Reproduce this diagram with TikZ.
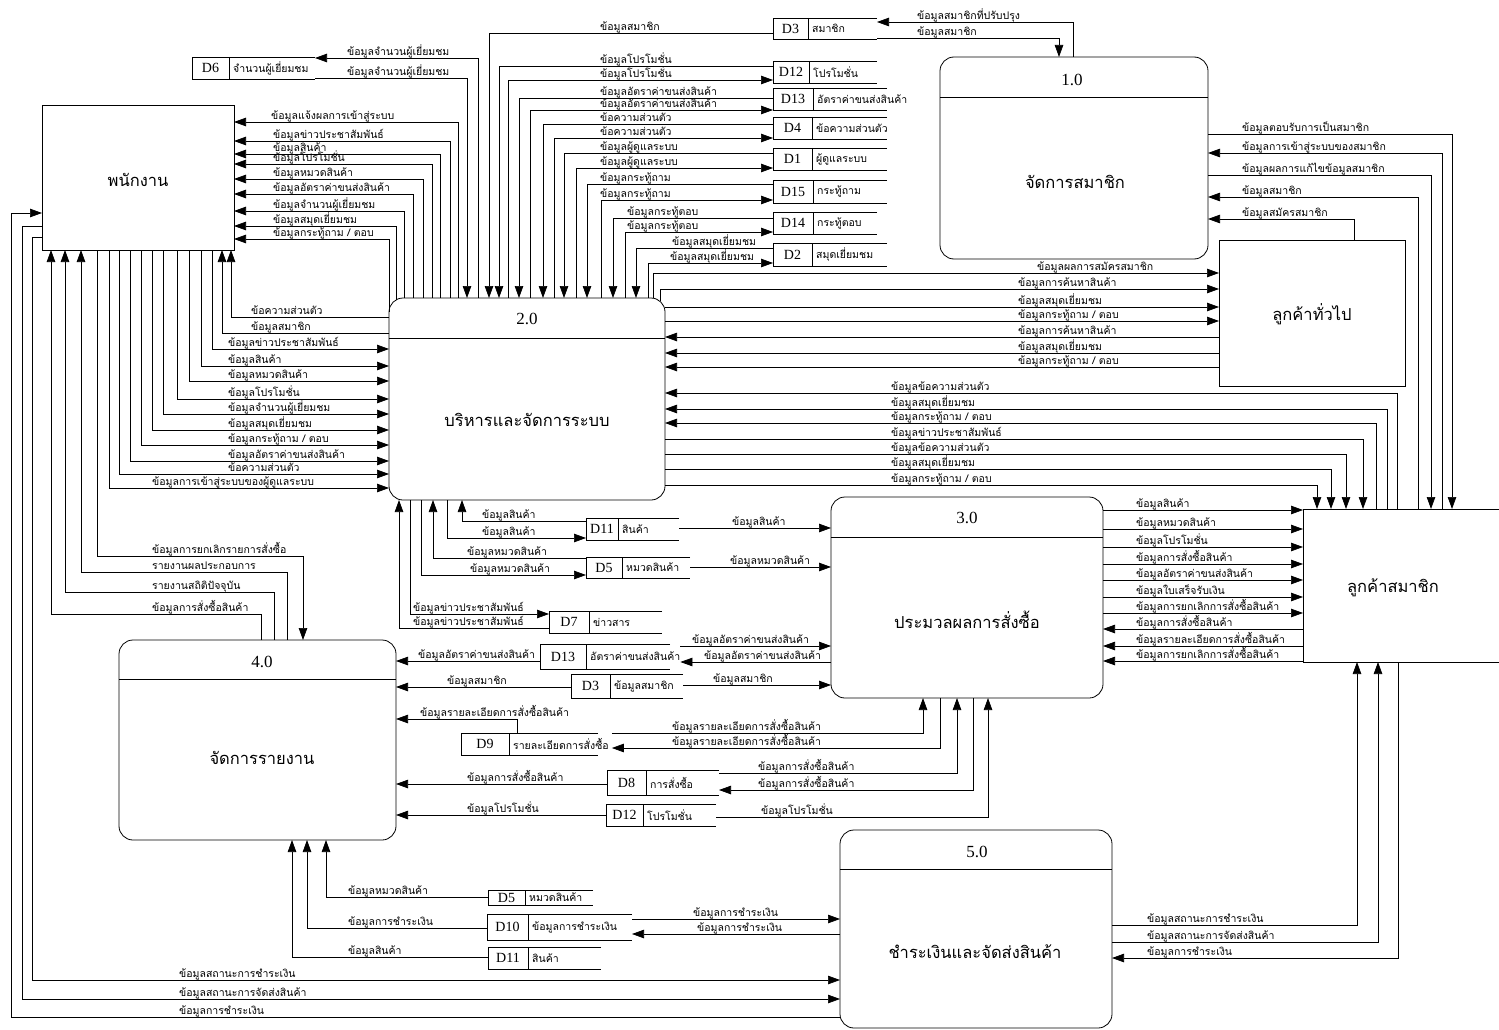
\documentclass[tikz,border=0pt]{standalone}
\usepackage{fontspec}
\setmainfont{Liberation Serif}
\newfontfamily\thaifont[Script=Thai]{Loma}
\usetikzlibrary{arrows.meta,fit}
\newcounter{lbc}
\newcommand\lb[3]{\stepcounter{lbc}\node[lbl] (lab\arabic{lbc}) at (#1,#2-2.5) {#3};}
\newcommand\dstore[8]{%
  \coordinate (#1nw) at (#2,#3);
  \coordinate (#1se) at (#6,#4);
  \node[fit=(#1nw)(#1se), inner sep=0pt, outer sep=0pt] (#1) {};
  \draw[ln] (#1.north east) -- (#1.north west) -- (#1.south west) -- (#1.south east);
  \draw[ln] (#1.north west -| #5,0) -- (#1.south west -| #5,0);
  \node[idf] (#1i) at ({(#2+#5)/2},{(#3+#4)/2}) {#7};
  \node[stf] (#1n) at (#5+4,{(#3+#4)/2}) {#8};
}
\tikzset{
  ln/.style={line width=0.7pt},
  flow/.style={line width=0.7pt,-{Triangle[length=12pt,width=8.5pt]}},
  lbl/.style={anchor=base west, inner sep=0pt, font=\thaifont\fontsize{10.5}{11}\selectfont},
  stf/.style={anchor=west, inner sep=0pt, font=\thaifont\fontsize{10.5}{11}\selectfont},
  idf/.style={inner sep=0pt, font=\fontsize{14}{14}\selectfont},
  ent/.style={draw, line width=0.8pt, inner sep=0pt, outer sep=0pt},
  proc/.style={ent, rounded corners=14pt},
  big/.style={inner sep=0pt, font=\thaifont\fontsize{16.5}{18}\selectfont},
  num/.style={inner sep=0pt, font=\fontsize{17}{18}\selectfont},
}
\begin{document}
\begin{tikzpicture}[x=1pt,y=-1pt]
\useasboundingbox (0,0) rectangle (1499,1030);
% ---------------- external entities
\node[ent, minimum width=192pt, minimum height=145pt] (e1) at (138,177.5) {};
\node[big] (e1t) at (138,180) {พนักงาน};
\node[ent, minimum width=186pt, minimum height=146pt] (e2) at (1312,313) {};
\node[big] (e2t) at (1312,314) {ลูกค้าทั่วไป};
\node[ent, minimum width=207pt, minimum height=153pt] (e3) at (1406.5,585.5) {};
\node[big] (e3t) at (1393,588) {ลูกค้าสมาชิก};
% ---------------- processes
\node[proc, minimum width=268pt, minimum height=202pt] (p1) at (1074,158) {};
\draw[ln] (p1.west |- 0,97) -- (p1.east |- 0,97);
\node[num] (p1n) at (1072,80) {1.0};
\node[big] (p1t) at (1075,182) {จัดการสมาชิก};
\node[proc, minimum width=276pt, minimum height=202pt] (p2) at (527,399) {};
\draw[ln] (p2.west |- 0,338) -- (p2.east |- 0,338);
\node[num] (p2n) at (527,319) {2.0};
\node[big] (p2t) at (527,420) {บริหารและจัดการระบบ};
\node[proc, minimum width=272pt, minimum height=201pt] (p3) at (967,597.5) {};
\draw[ln] (p3.west |- 0,537) -- (p3.east |- 0,537);
\node[num] (p3n) at (967,518) {3.0};
\node[big] (p3t) at (967,620) {ประมวลผลการสั่งซื้อ};
\node[proc, minimum width=277pt, minimum height=200pt] (p4) at (257.5,740) {};
\draw[ln] (p4.west |- 0,679) -- (p4.east |- 0,679);
\node[num] (p4n) at (262,662) {4.0};
\node[big] (p4t) at (262,758) {จัดการรายงาน};
\node[proc, minimum width=272pt, minimum height=198pt] (p5) at (976,929) {};
\draw[ln] (p5.west |- 0,869) -- (p5.east |- 0,869);
\node[num] (p5n) at (977,852) {5.0};
\node[big] (p5t) at (975,952) {ชำระเงินและจัดส่งสินค้า};
% ---------------- data stores
\dstore{d3a}{773}{18}{39}{808}{877}{D3}{สมาชิก}
\dstore{d12a}{773}{61}{83}{809}{877}{D12}{โปรโมชั่น}
\dstore{d13a}{773}{88}{110}{813}{887}{D13}{อัตราค่าขนส่งสินค้า}
\dstore{d4}{773}{117}{139}{812}{887}{D4}{ข้อความส่วนตัว}
\dstore{d1}{773}{148}{170}{812}{887}{D1}{ผู้ดูแลระบบ}
\dstore{d15}{773}{180}{203}{813}{887}{D15}{กระทู้ถาม}
\dstore{d14}{773}{212}{234}{813}{877}{D14}{กระทู้ตอบ}
\dstore{d2}{773}{243}{266}{812}{887}{D2}{สมุดเยี่ยมชม}
\dstore{d6}{192}{57}{79}{229}{315}{D6}{จำนวนผู้เยี่ยมชม}
\dstore{d11a}{586}{518}{540}{618}{679}{D11}{สินค้า}
\dstore{d5a}{586}{557}{578}{622}{690}{D5}{หมวดสินค้า}
\dstore{d7}{549}{611}{633}{589}{662}{D7}{ข่าวสาร}
\dstore{d13b}{540}{644}{669}{586}{670}{D13}{อัตราค่าขนส่งสินค้า}
\dstore{d3b}{571}{674}{698}{610}{683}{D3}{ข้อมูลสมาชิก}
\dstore{d9}{461}{733}{755}{509}{598}{D9}{รายละเอียดการสั่งซื้อ}
\dstore{d8}{607}{770}{795}{646}{719}{D8}{การสั่งซื้อ}
\dstore{d12b}{606}{804}{826}{643}{716}{D12}{โปรโมชั่น}
\dstore{d5b}{488}{890}{905}{525}{593}{D5}{หมวดสินค้า}
\dstore{d10}{487}{914}{940}{528}{632}{D10}{ข้อมูลการชำระเงิน}
\dstore{d11b}{488}{947}{969}{528}{601}{D11}{สินค้า}
% ---------------- 2.0 <-> D6
\draw[flow] (p2.north -| 478,0) -- (478,58) -- (d6.east |- 0,58);
\lb{347}{58}{ข้อมูลจำนวนผู้เยี่ยมชม}
\draw[flow] (d6.east |- 0,78) -- (467,78) -- (p2.north -| 467,0);
\lb{347}{78}{ข้อมูลจำนวนผู้เยี่ยมชม}
% ---------------- 2.0 <-> top stores
\draw[flow] (d3a.west |- 0,33) -- (489,33) -- (p2.north -| 489,0);
\lb{600}{33}{ข้อมูลสมาชิก}
\draw[flow] (d12a.west |- 0,66) -- (499,66) -- (p2.north -| 499,0);
\lb{600}{66}{ข้อมูลโปรโมชั่น}
\draw[flow] (p2.north -| 508,0) -- (508,80) -- (d12a.west |- 0,80);
\lb{600}{80}{ข้อมูลโปรโมชั่น}
\draw[flow] (d13a.west |- 0,98) -- (519,98) -- (p2.north -| 519,0);
\lb{600}{98}{ข้อมูลอัตราค่าขนส่งสินค้า}
\draw[flow] (p2.north -| 530,0) -- (530,110) -- (d13a.west |- 0,110);
\lb{600}{110}{ข้อมูลอัตราค่าขนส่งสินค้า}
\draw[flow] (d4.west |- 0,124) -- (543,124) -- (p2.north -| 543,0);
\lb{600}{124}{ข้อความส่วนตัว}
\draw[flow] (p2.north -| 554,0) -- (554,138) -- (d4.west |- 0,138);
\lb{600}{138}{ข้อความส่วนตัว}
\draw[flow] (d1.west |- 0,153) -- (564,153) -- (p2.north -| 564,0);
\lb{600}{153}{ข้อมูลผู้ดูแลระบบ}
\draw[flow] (p2.north -| 576,0) -- (576,168) -- (d1.west |- 0,168);
\lb{600}{168}{ข้อมูลผู้ดูแลระบบ}
\draw[flow] (d15.west |- 0,184) -- (587,184) -- (p2.north -| 587,0);
\lb{600}{184}{ข้อมูลกระทู้ถาม}
\draw[flow] (p2.north -| 601,0) -- (601,200) -- (d15.west |- 0,200);
\lb{600}{200}{ข้อมูลกระทู้ถาม}
\draw[flow] (d14.west |- 0,218) -- (613,218) -- (p2.north -| 613,0);
\lb{627}{218}{ข้อมูลกระทู้ตอบ}
\draw[flow] (p2.north -| 625,0) -- (625,232) -- (d14.west |- 0,232);
\lb{627}{232}{ข้อมูลกระทู้ตอบ}
\draw[flow] (d2.west |- 0,248) -- (636,248) -- (p2.north -| 636,0);
\lb{672}{248}{ข้อมูลสมุดเยี่ยมชม}
\draw[flow] (p2.north -| 648,0) -- (648,263) -- (d2.west |- 0,263);
\lb{670}{263}{ข้อมูลสมุดเยี่ยมชม}
% ---------------- 2.0 -> พนักงาน (right side)
\draw[flow] (p2.north -| 458,0) -- (458,122) -- (e1.east |- 0,122);
\lb{271}{122}{ข้อมูลแจ้งผลการเข้าสู่ระบบ}
\draw[flow] (p2.north -| 450,0) -- (450,141) -- (e1.east |- 0,141);
\lb{273}{141}{ข้อมูลข่าวประชาสัมพันธ์}
\draw[flow] (p2.north -| 440,0) -- (440,154) -- (e1.east |- 0,154);
\lb{273}{154}{ข้อมูลสินค้า}
\draw[flow] (p2.north -| 432,0) -- (432,164) -- (e1.east |- 0,164);
\lb{273}{164}{ข้อมูลโปรโมชั่น}
\draw[flow] (p2.north -| 423,0) -- (423,179) -- (e1.east |- 0,179);
\lb{273}{179}{ข้อมูลหมวดสินค้า}
\draw[flow] (p2.north -| 413,0) -- (413,194) -- (e1.east |- 0,194);
\lb{273}{194}{ข้อมูลอัตราค่าขนส่งสินค้า}
\draw[flow] (p2.north -| 404,0) -- (404,211) -- (e1.east |- 0,211);
\lb{273}{211}{ข้อมูลจำนวนผู้เยี่ยมชม}
\draw[flow] (396,300) -- (396,226) -- (e1.east |- 0,226);
\lb{273}{226}{ข้อมูลสมุดเยี่ยมชม}
\draw[flow] (p2.west |- 0,312) -- (389,239) -- (e1.east |- 0,239);
\lb{273}{239}{ข้อมูลกระทู้ถาม / ตอบ}
% ---------------- 2.0 <-> พนักงาน (bottom side)
\draw[flow] (p2.west |- 0,317) -- (231,317) -- (e1.south -| 231,0);
\lb{251}{317}{ข้อความส่วนตัว}
\draw[flow] (p2.west |- 0,333) -- (222,333) -- (e1.south -| 222,0);
\lb{251}{333}{ข้อมูลสมาชิก}
\draw[flow] (e1.south -| 212,0) -- (212,349) -- (p2.west |- 0,349);
\lb{228}{349}{ข้อมูลข่าวประชาสัมพันธ์}
\draw[flow] (e1.south -| 201,0) -- (201,366) -- (p2.west |- 0,366);
\lb{228}{366}{ข้อมูลสินค้า}
\draw[flow] (e1.south -| 189,0) -- (189,381) -- (p2.west |- 0,381);
\lb{228}{381}{ข้อมูลหมวดสินค้า}
\draw[flow] (e1.south -| 177,0) -- (177,399) -- (p2.west |- 0,399);
\lb{228}{399}{ข้อมูลโปรโมชั่น}
\draw[flow] (e1.south -| 163,0) -- (163,414) -- (p2.west |- 0,414);
\lb{228}{414}{ข้อมูลจำนวนผู้เยี่ยมชม}
\draw[flow] (e1.south -| 152,0) -- (152,430) -- (p2.west |- 0,430);
\lb{228}{430}{ข้อมูลสมุดเยี่ยมชม}
\draw[flow] (e1.south -| 141,0) -- (141,445) -- (p2.west |- 0,445);
\lb{228}{445}{ข้อมูลกระทู้ถาม / ตอบ}
\draw[flow] (e1.south -| 130,0) -- (130,461) -- (p2.west |- 0,461);
\lb{228}{461}{ข้อมูลอัตราค่าขนส่งสินค้า}
\draw[flow] (e1.south -| 119,0) -- (119,474) -- (p2.west |- 0,474);
\lb{228}{474}{ข้อความส่วนตัว}
\draw[flow] (e1.south -| 109,0) -- (109,488) -- (p2.west |- 0,488);
\lb{152}{488}{ข้อมูลการเข้าสู่ระบบของผู้ดูแลระบบ}
% ---------------- พนักงาน <-> 4.0
\draw[flow] (e1.south -| 97,0) -- (97,556) -- (303,556) -- (p4.north -| 303,0);
\lb{152}{556}{ข้อมูลการยกเลิกรายการสั่งซื้อ}
\draw[flow] (p4.north -| 287,0) -- (287,572) -- (81,572) -- (e1.south -| 81,0);
\lb{152}{572}{รายงานผลประกอบการ}
\draw[flow] (p4.north -| 274,0) -- (274,592) -- (65,592) -- (e1.south -| 65,0);
\lb{152}{592}{รายงานสถิติปัจจุบัน}
\draw[flow] (p4.north -| 261,0) -- (261,614) -- (51,614) -- (e1.south -| 51,0);
\lb{152}{614}{ข้อมูลการสั่งซื้อสินค้า}
% ---------------- พนักงาน <-> 5.0
\draw[flow] (p5.west |- 0,1017) -- (11,1017) -- (11,213) -- (e1.west |- 0,213);
\lb{179}{1017}{ข้อมูลการชำระเงิน}
\draw[flow] (e1.west |- 0,226) -- (22,226) -- (22,999) -- (p5.west |- 0,999);
\lb{179}{999}{ข้อมูลสถานะการจัดส่งสินค้า}
\draw[flow] (e1.west |- 0,237) -- (32,237) -- (32,980) -- (p5.west |- 0,980);
\lb{179}{980}{ข้อมูลสถานะการชำระเงิน}
% ---------------- 2.0 <-> ลูกค้าทั่วไป
\draw[flow] (p2.north -| 653,0) -- (653,273) -- (e2.west |- 0,273);
\lb{1037}{273}{ข้อมูลผลการสมัครสมาชิก}
\draw[flow] (660,301) -- (660,289) -- (e2.west |- 0,289);
\lb{1018}{289}{ข้อมูลการค้นหาสินค้า}
\draw[flow] (p2.east |- 0,307) -- (e2.west |- 0,307);
\lb{1018}{307}{ข้อมูลสมุดเยี่ยมชม}
\draw[flow] (p2.east |- 0,321) -- (e2.west |- 0,321);
\lb{1018}{321}{ข้อมูลกระทู้ถาม / ตอบ}
\draw[flow] (e2.west |- 0,337) -- (p2.east |- 0,337);
\lb{1018}{337}{ข้อมูลการค้นหาสินค้า}
\draw[flow] (e2.west |- 0,353) -- (p2.east |- 0,353);
\lb{1018}{353}{ข้อมูลสมุดเยี่ยมชม}
\draw[flow] (e2.west |- 0,367) -- (p2.east |- 0,367);
\lb{1018}{367}{ข้อมูลกระทู้ถาม / ตอบ}
% ---------------- 2.0 <-> ลูกค้าสมาชิก
\draw[flow] (e3.north -| 1397,0) -- (1397,393) -- (p2.east |- 0,393);
\lb{891}{393}{ข้อมูลข้อความส่วนตัว}
\draw[flow] (e3.north -| 1387,0) -- (1387,409) -- (p2.east |- 0,409);
\lb{891}{409}{ข้อมูลสมุดเยี่ยมชม}
\draw[flow] (e3.north -| 1376,0) -- (1376,423) -- (p2.east |- 0,423);
\lb{891}{423}{ข้อมูลกระทู้ถาม / ตอบ}
\draw[flow] (p2.east |- 0,439) -- (1363,439) -- (e3.north -| 1363,0);
\lb{891}{439}{ข้อมูลข่าวประชาสัมพันธ์}
\draw[flow] (p2.east |- 0,454) -- (1346,454) -- (e3.north -| 1346,0);
\lb{891}{454}{ข้อมูลข้อความส่วนตัว}
\draw[flow] (p2.east |- 0,469) -- (1331,469) -- (e3.north -| 1331,0);
\lb{891}{469}{ข้อมูลสมุดเยี่ยมชม}
\draw[flow] (p2.east |- 0,485) -- (1317,485) -- (e3.north -| 1317,0);
\lb{891}{485}{ข้อมูลกระทู้ถาม / ตอบ}
% ---------------- 1.0 <-> D3
\draw[flow] (p1.north -| 1073,0) -- (1073,22) -- (d3a.east |- 0,22);
\lb{917}{22}{ข้อมูลสมาชิกที่ปรับปรุง}
\draw[flow] (d3a.east |- 0,38) -- (1059,38) -- (p1.north -| 1059,0);
\lb{917}{38}{ข้อมูลสมาชิก}
% ---------------- 1.0 <-> customers
\draw[flow] (p1.east |- 0,134) -- (1452,134) -- (e3.north -| 1452,0);
\lb{1242}{134}{ข้อมูลตอบรับการเป็นสมาชิก}
\draw[flow] (e3.north -| 1442,0) -- (1442,153) -- (p1.east |- 0,153);
\lb{1242}{153}{ข้อมูลการเข้าสู่ระบบของสมาชิก}
\draw[flow] (p1.east |- 0,175) -- (1431,175) -- (e3.north -| 1431,0);
\lb{1242}{175}{ข้อมูลผลการแก้ไขข้อมูลสมาชิก}
\draw[flow] (e3.north -| 1418,0) -- (1418,197) -- (p1.east |- 0,197);
\lb{1242}{197}{ข้อมูลสมาชิก}
\draw[flow] (e2.north -| 1354,0) -- (1354,219) -- (p1.east |- 0,219);
\lb{1242}{219}{ข้อมูลสมัครสมาชิก}
% ---------------- 2.0 bottom <-> D11, D5, D7
\draw[flow] (d11a.west |- 0,521) -- (462,521) -- (p2.south -| 462,0);
\lb{482}{521}{ข้อมูลสินค้า}
\draw[flow] (p2.south -| 447,0) -- (447,538) -- (d11a.west |- 0,538);
\lb{482}{538}{ข้อมูลสินค้า}
\draw[flow] (d5a.west |- 0,558) -- (433,558) -- (p2.south -| 433,0);
\lb{467}{558}{ข้อมูลหมวดสินค้า}
\draw[flow] (p2.south -| 421,0) -- (421,575) -- (d5a.west |- 0,575);
\lb{470}{575}{ข้อมูลหมวดสินค้า}
\draw[flow] (p2.south -| 410,0) -- (410,614) -- (d7.west |- 0,614);
\lb{413}{614}{ข้อมูลข่าวประชาสัมพันธ์}
\draw[flow] (d7.west |- 0,628) -- (399,628) -- (p2.south -| 399,0);
\lb{413}{628}{ข้อมูลข่าวประชาสัมพันธ์}
% ---------------- stores -> 3.0 (left)
\draw[flow] (d11a.east |- 0,528) -- (p3.west |- 0,528);
\lb{732}{528}{ข้อมูลสินค้า}
\draw[flow] (d5a.east |- 0,567) -- (p3.west |- 0,567);
\lb{730}{567}{ข้อมูลหมวดสินค้า}
\draw[flow] (d13bn.east |- 0,646) -- (p3.west |- 0,646);
\lb{692}{646}{ข้อมูลอัตราค่าขนส่งสินค้า}
\draw[flow] (p3.west |- 0,662) -- (d13bn.east |- 0,662);
\lb{704}{662}{ข้อมูลอัตราค่าขนส่งสินค้า}
\draw[flow] (d3b.east |- 0,685) -- (p3.west |- 0,685);
\lb{713}{685}{ข้อมูลสมาชิก}
% ---------------- stores -> 4.0 (right)
\draw[flow] (d13b.west |- 0,661) -- (p4.east |- 0,661);
\lb{418}{661}{ข้อมูลอัตราค่าขนส่งสินค้า}
\draw[flow] (d3b.west |- 0,687) -- (p4.east |- 0,687);
\lb{447}{687}{ข้อมูลสมาชิก}
\draw[flow] (d9.north -| 517,0) -- (517,719) -- (p4.east |- 0,719);
\lb{420}{719}{ข้อมูลรายละเอียดการสั่งซื้อสินค้า}
\draw[flow] (d8.west |- 0,784) -- (p4.east |- 0,784);
\lb{467}{784}{ข้อมูลการสั่งซื้อสินค้า}
\draw[flow] (d12b.west |- 0,815) -- (p4.east |- 0,815);
\lb{467}{815}{ข้อมูลโปรโมชั่น}
% ---------------- 3.0 bottom <-> D9, D8, D12
\draw[flow] ([xshift=3pt]d9n.east |- 0,733) -- (923,733) -- (p3.south -| 923,0);
\lb{672}{733}{ข้อมูลรายละเอียดการสั่งซื้อสินค้า}
\draw[flow] (p3.south -| 940,0) -- (940,748) -- ([xshift=3pt]d9n.east |- 0,748);
\lb{672}{748}{ข้อมูลรายละเอียดการสั่งซื้อสินค้า}
\draw[flow] (d8.east |- 0,773) -- (957,773) -- (p3.south -| 957,0);
\lb{758}{773}{ข้อมูลการสั่งซื้อสินค้า}
\draw[flow] (p3.south -| 973,0) -- (973,790) -- (d8.east |- 0,790);
\lb{758}{790}{ข้อมูลการสั่งซื้อสินค้า}
\draw[flow] (d12b.east |- 0,817) -- (988,817) -- (p3.south -| 988,0);
\lb{761}{817}{ข้อมูลโปรโมชั่น}
% ---------------- 4.0 bottom <-> D5, D10, D11
\draw[flow] (d5b.west |- 0,897) -- (326,897) -- (p4.south -| 326,0);
\lb{348}{897}{ข้อมูลหมวดสินค้า}
\draw[flow] (d10.west |- 0,928) -- (307,928) -- (p4.south -| 307,0);
\lb{348}{928}{ข้อมูลการชำระเงิน}
\draw[flow] (d11b.west |- 0,957) -- (292,957) -- (p4.south -| 292,0);
\lb{348}{957}{ข้อมูลสินค้า}
% ---------------- 5.0 <-> D10
\draw[flow] (d10.east |- 0,919) -- (p5.west |- 0,919);
\lb{693}{919}{ข้อมูลการชำระเงิน}
\draw[flow] (p5.west |- 0,934) -- (d10.east |- 0,934);
\lb{697}{934}{ข้อมูลการชำระเงิน}
% ---------------- 5.0 <-> ลูกค้าสมาชิก
\draw[flow] (p5.east |- 0,925) -- (1357,925) -- (e3.south -| 1357,0);
\lb{1147}{925}{ข้อมูลสถานะการชำระเงิน}
\draw[flow] (p5.east |- 0,942) -- (1378,942) -- (e3.south -| 1378,0);
\lb{1147}{942}{ข้อมูลสถานะการจัดส่งสินค้า}
\draw[flow] (e3.south -| 1398,0) -- (1398,958) -- (p5.east |- 0,958);
\lb{1147}{958}{ข้อมูลการชำระเงิน}
% ---------------- 3.0 <-> ลูกค้าสมาชิก
\draw[flow] (p3.east |- 0,510) -- (e3.west |- 0,510);
\lb{1136}{510}{ข้อมูลสินค้า}
\draw[flow] (p3.east |- 0,529) -- (e3.west |- 0,529);
\lb{1136}{529}{ข้อมูลหมวดสินค้า}
\draw[flow] (p3.east |- 0,547) -- (e3.west |- 0,547);
\lb{1136}{547}{ข้อมูลโปรโมชั่น}
\draw[flow] (p3.east |- 0,564) -- (e3.west |- 0,564);
\lb{1136}{564}{ข้อมูลการสั่งซื้อสินค้า}
\draw[flow] (p3.east |- 0,580) -- (e3.west |- 0,580);
\lb{1136}{580}{ข้อมูลอัตราค่าขนส่งสินค้า}
\draw[flow] (p3.east |- 0,597) -- (e3.west |- 0,597);
\lb{1136}{597}{ข้อมูลใบเสร็จรับเงิน}
\draw[flow] (p3.east |- 0,613) -- (e3.west |- 0,613);
\lb{1136}{613}{ข้อมูลการยกเลิกการสั่งซื้อสินค้า}
\draw[flow] (e3.west |- 0,629) -- (p3.east |- 0,629);
\lb{1136}{629}{ข้อมูลการสั่งซื้อสินค้า}
\draw[flow] (e3.west |- 0,646) -- (p3.east |- 0,646);
\lb{1136}{646}{ข้อมูลรายละเอียดการสั่งซื้อสินค้า}
\draw[flow] (e3.west |- 0,661) -- (p3.east |- 0,661);
\lb{1136}{661}{ข้อมูลการยกเลิกการสั่งซื้อสินค้า}
\end{tikzpicture}
\end{document}
